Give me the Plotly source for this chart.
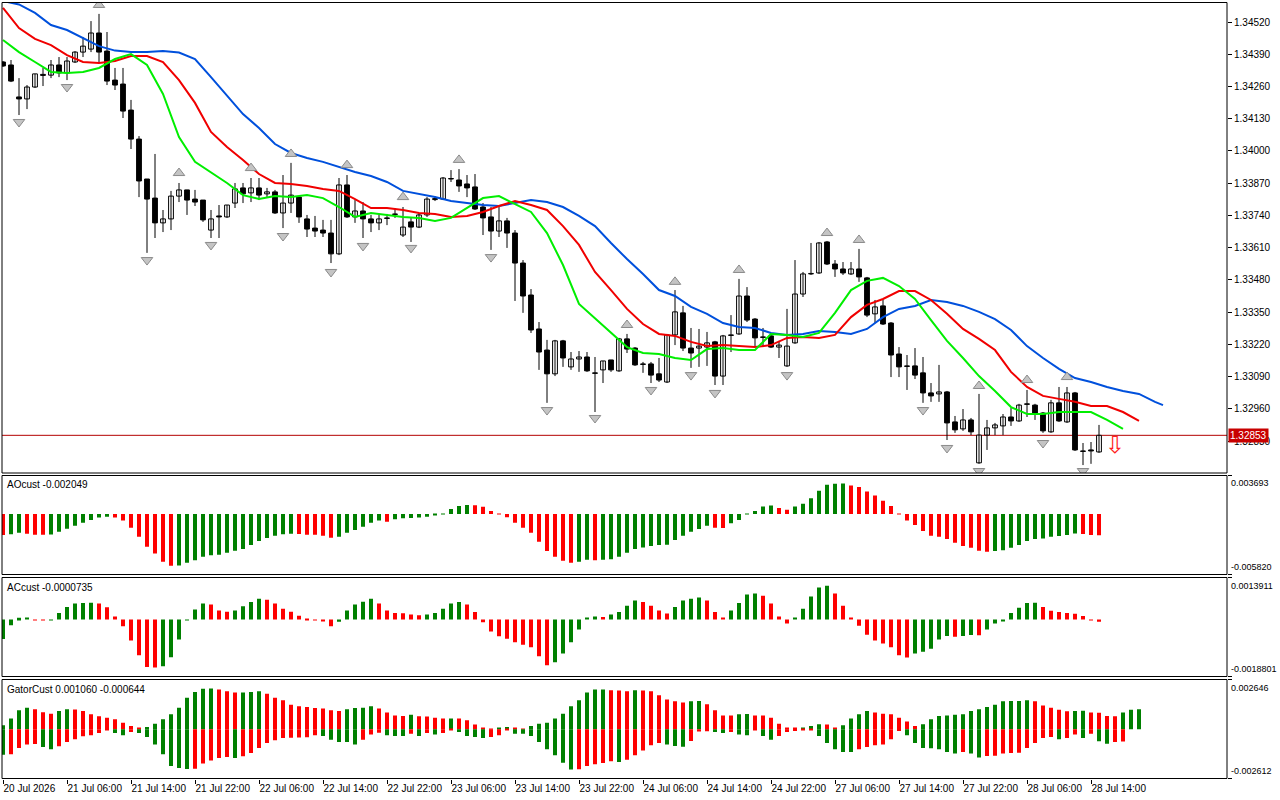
import plotly.graph_objects as go

# ---------------- data ----------------
bars = list(range(138))
open_ = [1.34359, 1.34347, 1.34218, 1.34210, 1.34258, 1.34309, 1.34306, 1.34347, 1.34315, 1.34359,
         1.34399, 1.34411, 1.34476, 1.34403, 1.34286, 1.34270, 1.34165, 1.34048, 1.33887, 1.33810,
         1.33710, 1.33726, 1.33818, 1.33843, 1.33806, 1.33802, 1.33681, 1.33738, 1.33734, 1.33790,
         1.33851, 1.33831, 1.33851, 1.33827, 1.33835, 1.33750, 1.33790, 1.33814, 1.33726, 1.33689,
         1.33681, 1.33669, 1.33585, 1.33863, 1.33734, 1.33758, 1.33726, 1.33710, 1.33730, 1.33746,
         1.33661, 1.33714, 1.33693, 1.33742, 1.33804, 1.33806, 1.33889, 1.33883, 1.33867, 1.33855,
         1.33774, 1.33734, 1.33677, 1.33718, 1.33669, 1.33548, 1.33419, 1.33282, 1.33197, 1.33101,
         1.33234, 1.33129, 1.33161, 1.33169, 1.33105, 1.33117, 1.33157, 1.33113, 1.33242, 1.33205,
         1.33141, 1.33141, 1.33101, 1.33068, 1.33258, 1.33347, 1.33205, 1.33205, 1.33209, 1.33230,
         1.33092, 1.33258, 1.33262, 1.33415, 1.33322, 1.33250, 1.33254, 1.33209, 1.33133, 1.33226,
         1.33423, 1.33504, 1.33508, 1.33633, 1.33544, 1.33524, 1.33504, 1.33524, 1.33488, 1.33343,
         1.33375, 1.33306, 1.33181, 1.33133, 1.33133, 1.33105, 1.33024, 1.33020, 1.33028, 1.32907,
         1.32879, 1.32915, 1.32742, 1.32854, 1.32883, 1.32891, 1.32927, 1.32911, 1.32980, 1.32975,
         1.32943, 1.32867, 1.32984, 1.32907, 1.33024, 1.32790, 1.32794, 1.32786]
high = [1.34363, 1.34367, 1.34294, 1.34266, 1.34311, 1.34335, 1.34367, 1.34379, 1.34379, 1.34403,
        1.34460, 1.34524, 1.34553, 1.34480, 1.34335, 1.34335, 1.34206, 1.34060, 1.33887, 1.33988,
        1.33762, 1.33839, 1.33871, 1.33843, 1.33843, 1.33802, 1.33762, 1.33782, 1.33782, 1.33871,
        1.33871, 1.33891, 1.33891, 1.33851, 1.33843, 1.33903, 1.33952, 1.33814, 1.33742, 1.33738,
        1.33722, 1.33722, 1.33891, 1.33903, 1.33802, 1.33794, 1.33742, 1.33742, 1.33746, 1.33770,
        1.33774, 1.33730, 1.33750, 1.33814, 1.33818, 1.33895, 1.33923, 1.33927, 1.33903, 1.33907,
        1.33790, 1.33774, 1.33774, 1.33730, 1.33681, 1.33560, 1.33443, 1.33310, 1.33238, 1.33238,
        1.33238, 1.33189, 1.33193, 1.33189, 1.33169, 1.33153, 1.33157, 1.33246, 1.33262, 1.33209,
        1.33149, 1.33149, 1.33165, 1.33262, 1.33439, 1.33375, 1.33286, 1.33282, 1.33270, 1.33234,
        1.33258, 1.33338, 1.33484, 1.33451, 1.33326, 1.33286, 1.33258, 1.33234, 1.33363, 1.33560,
        1.33512, 1.33629, 1.33633, 1.33637, 1.33560, 1.33552, 1.33552, 1.33605, 1.33492, 1.33399,
        1.33399, 1.33310, 1.33209, 1.33177, 1.33205, 1.33169, 1.33064, 1.33137, 1.33032, 1.32931,
        1.32959, 1.32923, 1.33020, 1.32915, 1.32903, 1.32939, 1.32963, 1.32980, 1.33036, 1.32980,
        1.32947, 1.32996, 1.33048, 1.33048, 1.33028, 1.32822, 1.32826, 1.32895]
low = [1.34339, 1.34278, 1.34145, 1.34169, 1.34254, 1.34262, 1.34294, 1.34298, 1.34286, 1.34355,
       1.34379, 1.34399, 1.34359, 1.34266, 1.34246, 1.34133, 1.34008, 1.33814, 1.33589, 1.33649,
       1.33673, 1.33681, 1.33794, 1.33742, 1.33778, 1.33714, 1.33649, 1.33649, 1.33730, 1.33770,
       1.33790, 1.33794, 1.33802, 1.33814, 1.33746, 1.33689, 1.33750, 1.33710, 1.33653, 1.33653,
       1.33653, 1.33548, 1.33580, 1.33730, 1.33710, 1.33649, 1.33673, 1.33681, 1.33701, 1.33730,
       1.33653, 1.33633, 1.33689, 1.33734, 1.33798, 1.33802, 1.33875, 1.33835, 1.33814, 1.33762,
       1.33661, 1.33601, 1.33653, 1.33609, 1.33395, 1.33347, 1.33266, 1.33117, 1.32984, 1.33092,
       1.33129, 1.33117, 1.33109, 1.33109, 1.32947, 1.33064, 1.33109, 1.33109, 1.33185, 1.33133,
       1.33105, 1.33064, 1.33068, 1.33064, 1.33217, 1.33193, 1.33125, 1.33129, 1.33133, 1.33056,
       1.33056, 1.33189, 1.33258, 1.33310, 1.33209, 1.33209, 1.33205, 1.33165, 1.33129, 1.33222,
       1.33411, 1.33500, 1.33504, 1.33540, 1.33492, 1.33500, 1.33500, 1.33472, 1.33330, 1.33306,
       1.33298, 1.33088, 1.33088, 1.33036, 1.33080, 1.32984, 1.32988, 1.32988, 1.32834, 1.32863,
       1.32871, 1.32854, 1.32738, 1.32794, 1.32854, 1.32854, 1.32891, 1.32907, 1.32927, 1.32915,
       1.32863, 1.32863, 1.32907, 1.32903, 1.32790, 1.32733, 1.32738, 1.32782]
close = [1.34343, 1.34282, 1.34210, 1.34258, 1.34311, 1.34305, 1.34347, 1.34315, 1.34363, 1.34399,
         1.34423, 1.34476, 1.34399, 1.34282, 1.34266, 1.34161, 1.34048, 1.33879, 1.33806, 1.33710,
         1.33726, 1.33818, 1.33843, 1.33802, 1.33794, 1.33722, 1.33726, 1.33734, 1.33782, 1.33847,
         1.33827, 1.33851, 1.33822, 1.33835, 1.33750, 1.33790, 1.33822, 1.33734, 1.33685, 1.33677,
         1.33669, 1.33585, 1.33863, 1.33734, 1.33758, 1.33726, 1.33710, 1.33726, 1.33728, 1.33744,
         1.33693, 1.33693, 1.33742, 1.33806, 1.33808, 1.33891, 1.33887, 1.33859, 1.33851, 1.33766,
         1.33730, 1.33677, 1.33718, 1.33669, 1.33548, 1.33415, 1.33278, 1.33189, 1.33101, 1.33234,
         1.33165, 1.33161, 1.33169, 1.33113, 1.33103, 1.33153, 1.33117, 1.33242, 1.33201, 1.33137,
         1.33139, 1.33096, 1.33076, 1.33258, 1.33351, 1.33205, 1.33185, 1.33213, 1.33226, 1.33092,
         1.33254, 1.33256, 1.33415, 1.33318, 1.33246, 1.33248, 1.33209, 1.33217, 1.33213, 1.33423,
         1.33504, 1.33506, 1.33629, 1.33544, 1.33524, 1.33508, 1.33524, 1.33492, 1.33338, 1.33371,
         1.33302, 1.33177, 1.33129, 1.33131, 1.33096, 1.33024, 1.33012, 1.33028, 1.32903, 1.32875,
         1.32915, 1.32867, 1.32854, 1.32883, 1.32895, 1.32927, 1.32911, 1.32975, 1.32978, 1.32939,
         1.32871, 1.32984, 1.32911, 1.33024, 1.32794, 1.32788, 1.32790, 1.32853]

jaw_bars = list(range(0, 145, 2)) + [145]
jaw = [1.34605, 1.34591, 1.34557, 1.34508, 1.34488, 1.34456, 1.34423, 1.34405, 1.34399, 1.34399,
       1.34403, 1.34397, 1.34371, 1.34298, 1.34222, 1.34149, 1.34093, 1.34028, 1.33992, 1.33972,
       1.33956, 1.33935, 1.33915, 1.33899, 1.33875, 1.33839, 1.33827, 1.33814, 1.33798, 1.33790,
       1.33782, 1.33778, 1.33790, 1.33802, 1.33794, 1.33774, 1.33738, 1.33697, 1.33629, 1.33564,
       1.33504, 1.33439, 1.33415, 1.33371, 1.33343, 1.33306, 1.33290, 1.33286, 1.33266, 1.33258,
       1.33262, 1.33274, 1.33270, 1.33262, 1.33282, 1.33330, 1.33363, 1.33375, 1.33399, 1.33391,
       1.33375, 1.33351, 1.33322, 1.33278, 1.33213, 1.33165, 1.33121, 1.33084, 1.33068, 1.33048,
       1.33032, 1.33020, 1.32988, 1.32975]
teeth_bars = list(range(0, 143, 2))
teeth = [1.34577, 1.34496, 1.34452, 1.34427, 1.34387, 1.34359, 1.34355, 1.34363, 1.34383, 1.34383,
         1.34359, 1.34286, 1.34194, 1.34077, 1.34016, 1.33964, 1.33907, 1.33871, 1.33867, 1.33859,
         1.33847, 1.33839, 1.33806, 1.33770, 1.33770, 1.33762, 1.33750, 1.33746, 1.33734, 1.33738,
         1.33754, 1.33778, 1.33798, 1.33782, 1.33762, 1.33697, 1.33621, 1.33512, 1.33439, 1.33363,
         1.33302, 1.33262, 1.33254, 1.33230, 1.33213, 1.33217, 1.33213, 1.33209, 1.33217, 1.33246,
         1.33250, 1.33246, 1.33258, 1.33330, 1.33379, 1.33403, 1.33435, 1.33435, 1.33399, 1.33343,
         1.33282, 1.33242, 1.33197, 1.33109, 1.33048, 1.33012, 1.33000, 1.32988, 1.32971, 1.32971,
         1.32947, 1.32911]
lips_bars = list(range(0, 141, 2))
lips = [1.34448, 1.34399, 1.34359, 1.34319, 1.34315, 1.34319, 1.34335, 1.34371, 1.34391, 1.34347,
        1.34230, 1.34056, 1.33956, 1.33915, 1.33871, 1.33822, 1.33806, 1.33818, 1.33814, 1.33822,
        1.33810, 1.33774, 1.33734, 1.33750, 1.33742, 1.33734, 1.33730, 1.33718, 1.33730, 1.33770,
        1.33810, 1.33818, 1.33786, 1.33754, 1.33669, 1.33540, 1.33383, 1.33326, 1.33270, 1.33209,
        1.33185, 1.33181, 1.33165, 1.33157, 1.33201, 1.33205, 1.33197, 1.33197, 1.33262, 1.33258,
        1.33250, 1.33266, 1.33347, 1.33439, 1.33476, 1.33488, 1.33455, 1.33403, 1.33318, 1.33234,
        1.33165, 1.33092, 1.33032, 1.32967, 1.32939, 1.32939, 1.32947, 1.32947, 1.32947, 1.32915,
        1.32879]

frac_up_bars = [12, 22, 31, 36, 43, 50, 57, 78, 84, 92, 103, 107, 122, 128, 133]
frac_up = [1.34589, 1.33911, 1.33931, 1.33988, 1.33943, 1.33814, 1.33964, 1.33298, 1.33472,
           1.33520, 1.33669, 1.33641, 1.33052, 1.33076, 1.33088]
frac_dn_bars = [2, 8, 18, 26, 35, 41, 45, 51, 61, 68, 74, 81, 86, 89, 98, 115, 118, 122, 130, 135]
frac_dn = [1.34117, 1.34258, 1.33560, 1.33621, 1.33657, 1.33512, 1.33617, 1.33609, 1.33572, 1.32955,
           1.32923, 1.33036, 1.33096, 1.33024, 1.33096, 1.32955, 1.32802, 1.32709, 1.32822, 1.32709]
signal_bar = [139]
signal_price = [1.32806]
last_price = 1.32853

ao = [-0.00203, -0.00196, -0.00180, -0.00190, -0.00200, -0.00201, -0.00198, -0.00171, -0.00142, -0.00113,
      -0.00084, -0.00058, -0.00035, -0.00026, -0.00035, -0.00064, -0.00132, -0.00219, -0.00316, -0.00380,
      -0.00460, -0.00499, -0.00496, -0.00470, -0.00444, -0.00412, -0.00396, -0.00393, -0.00374, -0.00354,
      -0.00338, -0.00299, -0.00261, -0.00232, -0.00209, -0.00196, -0.00190, -0.00193, -0.00200, -0.00201,
      -0.00209, -0.00229, -0.00219, -0.00180, -0.00155, -0.00122, -0.00084, -0.00064, -0.00074, -0.00052,
      -0.00042, -0.00039, -0.00035, -0.00026, -0.00016, -0.00003, 0.00048, 0.00077, 0.00087, 0.00084,
      0.00068, 0.00029, 0.00003, -0.00032, -0.00084, -0.00132, -0.00180, -0.00267, -0.00357, -0.00412,
      -0.00451, -0.00470, -0.00460, -0.00441, -0.00444, -0.00441, -0.00435, -0.00412, -0.00374, -0.00338,
      -0.00322, -0.00309, -0.00299, -0.00296, -0.00251, -0.00209, -0.00171, -0.00145, -0.00113, -0.00132,
      -0.00135, -0.00090, -0.00058, 0.00002, 0.00029, 0.00071, 0.00081, 0.00058, 0.00039, 0.00071,
      0.00097, 0.00151, 0.00222, 0.00280, 0.00290, 0.00293, 0.00274, 0.00258, 0.00216, 0.00177,
      0.00126, 0.00077, 0.00003, -0.00064, -0.00106, -0.00164, -0.00209, -0.00219, -0.00242, -0.00277,
      -0.00309, -0.00325, -0.00354, -0.00364, -0.00357, -0.00348, -0.00325, -0.00299, -0.00261, -0.00242,
      -0.00235, -0.00219, -0.00213, -0.00203, -0.00187, -0.00193, -0.00203, -0.002049]
ao_colors = ("rggrrrgggg" "ggggrrrrrr" "rrgggggggg" "gggggggrrr" "rrggggggrg" "gggggggggr"
             "rrrrrrrrrr" "rrggrggggg" "gggggggggr" "rggggggrrg" "ggggggrrrr" "rrrrrrrrrr"
             "rrrrgggggg" "gggggrrr")

ac = [-0.00064, -0.00019, 0.00006, 0.00007, -0.00001, -0.00002, -0.00001, 0.00022, 0.00042, 0.00053,
      0.00055, 0.00056, 0.00053, 0.00041, 0.00010, -0.00022, -0.00069, -0.00118, -0.00157, -0.00158,
      -0.00154, -0.00124, -0.00066, -0.00002, 0.00033, 0.00053, 0.00050, 0.00030, 0.00026, 0.00030,
      0.00044, 0.00058, 0.00069, 0.00066, 0.00053, 0.00036, 0.00026, 0.00013, 0.00003, -0.00001,
      -0.00004, -0.00022, -0.00007, 0.00030, 0.00050, 0.00059, 0.00069, 0.00053, 0.00030, 0.00022,
      0.00021, 0.00017, 0.00014, 0.00017, 0.00022, 0.00036, 0.00053, 0.00058, 0.00050, 0.00025,
      -0.00009, -0.00039, -0.00055, -0.00063, -0.00075, -0.00083, -0.00091, -0.00121, -0.00151, -0.00141,
      -0.00112, -0.00075, -0.00033, 0.00007, 0.00010, 0.00009, 0.00017, 0.00025, 0.00046, 0.00063,
      0.00058, 0.00046, 0.00030, 0.00020, 0.00042, 0.00063, 0.00069, 0.00073, 0.00063, 0.00025,
      0.00007, 0.00030, 0.00055, 0.00083, 0.00086, 0.00079, 0.00053, 0.00010, -0.00013, 0.00007,
      0.00036, 0.00076, 0.00106, 0.00112, 0.00086, 0.00046, 0.00007, -0.00020, -0.00050, -0.00069,
      -0.00079, -0.00091, -0.00118, -0.00125, -0.00112, -0.00106, -0.00096, -0.00066, -0.00054, -0.00057,
      -0.00054, -0.00051, -0.00052, -0.00033, -0.00013, -0.00003, 0.00022, 0.00039, 0.00055, 0.00056,
      0.00042, 0.00029, 0.00025, 0.00022, 0.00019, 0.00012, -0.00001, -0.0000735]
ac_colors = ("ggggrrgggg" "ggrrrrrrrr" "ggggggrrrg" "gggrrrrrrr" "rrgggggrrr" "rrrgggggrr"
             "rrrrrrrrrg" "gggggrgggg" "rrrrggggrr" "rggggrrrrg" "ggggrrrrrr" "rrrrgggggr"
             "ggrggggggg" "rrrrrrrr")

gator_up = [0.00021, 0.00057, 0.00101, 0.00115, 0.00106, 0.00090, 0.00083, 0.00097, 0.00106, 0.00105,
            0.00097, 0.00080, 0.00069, 0.00062, 0.00053, 0.00035, 0.00018, 0.00009, 0.00012, 0.00030,
            0.00053, 0.00080, 0.00115, 0.00168, 0.00198, 0.00216, 0.00217, 0.00211, 0.00202, 0.00195,
            0.00196, 0.00198, 0.00202, 0.00189, 0.00168, 0.00154, 0.00131, 0.00122, 0.00119, 0.00113,
            0.00110, 0.00101, 0.00097, 0.00106, 0.00113, 0.00115, 0.00122, 0.00110, 0.00089, 0.00074,
            0.00071, 0.00078, 0.00069, 0.00068, 0.00062, 0.00057, 0.00058, 0.00057, 0.00048, 0.00025,
            0.00009, 0.00002, 0.00009, 0.00012, 0.00009, 0.00004, 0.00018, 0.00030, 0.00035, 0.00057,
            0.00083, 0.00122, 0.00154, 0.00195, 0.00211, 0.00212, 0.00207, 0.00206, 0.00202, 0.00207,
            0.00206, 0.00202, 0.00181, 0.00159, 0.00149, 0.00142, 0.00149, 0.00150, 0.00133, 0.00101,
            0.00074, 0.00073, 0.00080, 0.00081, 0.00074, 0.00073, 0.00062, 0.00030, 0.00007, 0.00006,
            0.00009, 0.00018, 0.00027, 0.00026, 0.00007, 0.00021, 0.00057, 0.00080, 0.00097, 0.00089,
            0.00083, 0.00080, 0.00062, 0.00042, 0.00018, 0.00027, 0.00053, 0.00071, 0.00074, 0.00078,
            0.00080, 0.00097, 0.00106, 0.00119, 0.00131, 0.00149, 0.00150, 0.00151, 0.00154, 0.00149,
            0.00127, 0.00115, 0.00104, 0.00096, 0.00097, 0.00098, 0.00089, 0.00088, 0.00071, 0.00070,
            0.00089, 0.00104, 0.00106]
gator_up_colors = ("ggggrrrggr" "rrrrrrrrgg" "gggggggrrr" "gggrrrrrrr" "rrrggggrrr" "rgrrrrgrrr"
                   "rrggrrgggg" "ggggggrrrg" "rrrrrrggrr" "rrggrrrrrr" "gggrrggggr" "rrrrrggggg"
                   "gggggggggr" "rrrrggrrrr" "ggg")
gator_dn = [-0.00135, -0.00133, -0.00099, -0.00080, -0.00078, -0.00094, -0.00106, -0.00090, -0.00067, -0.00053,
            -0.00037, -0.00032, -0.00019, -0.00005, -0.00019, -0.00032, -0.00014, -0.00019, -0.00041, -0.00080,
            -0.00133, -0.00195, -0.00205, -0.00211, -0.00209, -0.00182, -0.00165, -0.00152, -0.00147, -0.00152,
            -0.00143, -0.00126, -0.00099, -0.00073, -0.00058, -0.00046, -0.00045, -0.00044, -0.00042, -0.00032,
            -0.00035, -0.00055, -0.00067, -0.00068, -0.00080, -0.00055, -0.00027, -0.00018, -0.00032, -0.00035,
            -0.00036, -0.00023, -0.00035, -0.00019, -0.00027, -0.00019, -0.00005, -0.00014, -0.00035, -0.00041,
            -0.00046, -0.00041, -0.00032, -0.00005, -0.00023, -0.00024, -0.00035, -0.00067, -0.00106, -0.00138,
            -0.00177, -0.00214, -0.00212, -0.00195, -0.00186, -0.00179, -0.00170, -0.00173, -0.00161, -0.00138,
            -0.00112, -0.00085, -0.00073, -0.00081, -0.00089, -0.00092, -0.00062, -0.00011, -0.00010, -0.00014,
            -0.00019, -0.00014, -0.00027, -0.00032, -0.00002, -0.00035, -0.00055, -0.00035, -0.00014, -0.00009,
            -0.00005, -0.00004, -0.00035, -0.00073, -0.00106, -0.00120, -0.00121, -0.00106, -0.00094, -0.00085,
            -0.00080, -0.00053, -0.00009, -0.00032, -0.00073, -0.00099, -0.00100, -0.00106, -0.00120, -0.00129,
            -0.00120, -0.00129, -0.00150, -0.00142, -0.00141, -0.00129, -0.00126, -0.00125, -0.00099, -0.00073,
            -0.00046, -0.00041, -0.00053, -0.00046, -0.00028, -0.00046, -0.00023, -0.00064, -0.00076, -0.00067,
            -0.000644]
gator_dn_colors = ("grrrrggrrr" "rrrrggrggg" "ggggrrrrrg" "rrrrrrrrrr" "gggggrrrgg" "grgrgrrggg"
                   "grrrgggggg" "ggrrrrrgrr" "rrrgggrrrg" "grggrggrrr" "rrgggggrrr" "rrrggggggg"
                   "rggrrrrrrr" "rrgrrgrggr" "r")

x_tick_bars = list(range(0, 137, 8))
x_tick_labels = ["20 Jul 2026", "21 Jul 06:00", "21 Jul 14:00", "21 Jul 22:00", "22 Jul 06:00",
                 "22 Jul 14:00", "22 Jul 22:00", "23 Jul 06:00", "23 Jul 14:00", "23 Jul 22:00",
                 "24 Jul 06:00", "24 Jul 14:00", "24 Jul 22:00", "27 Jul 06:00", "27 Jul 14:00",
                 "27 Jul 22:00", "28 Jul 06:00", "28 Jul 14:00"]
price_ticks = [1.32830, 1.32960, 1.33090, 1.33220, 1.33350, 1.33480, 1.33610,
               1.33740, 1.33870, 1.34000, 1.34130, 1.34260, 1.34390, 1.34520]
price_tick_labels = ["1.32830", "1.32960", "1.33090", "1.33220", "1.33350", "1.33480", "1.33610",
                     "1.33740", "1.33870", "1.34000", "1.34130", "1.34260", "1.34390", "1.34520"]
main_range = [1.32701, 1.34599]
ao_range = [-0.005820, 0.003693]
ac_range = [-0.0018801, 0.0013911]
gator_range = [-0.002612, 0.002646]
ao_title = "AOcust -0.002049"
ac_title = "ACcust -0.0000735"
gator_title = "GatorCust 0.001060 -0.000644"
ao_labels = ["0.003693", "-0.005820"]
ac_labels = ["0.0013911", "-0.0018801"]
gator_labels = ["0.002646", "-0.002612"]

# ---------------- styling / layout ----------------
W, H = 1280, 800
PX_L, PX_R, PX_T, PX_B = 2, 1227, 2, 779
GREEN, RED = "#008000", "#ff0000"
FAMILY = "Liberation Sans, Arial, sans-serif"
FONT = dict(family=FAMILY, size=10, color="black")
SMALL = dict(family=FAMILY, size=9, color="black")
cmap = {"g": GREEN, "r": RED}

ph = PX_B - PX_T
def dom(t, b):
    return [(PX_B - b) / ph, (PX_B - t) / ph]

d_main = dom(2.5, 473)
d_ao = dom(475.5, 574.5)
d_ac = dom(577.5, 676.5)
d_ga = dom(679.5, 778.5)
x_range = [-0.125, (PX_R - PX_L) / 8 - 0.125]

fig = go.Figure()

# wicks
wx, wy = [], []
for i, h, l in zip(bars, high, low):
    wx += [i, i, None]
    wy += [l, h, None]
fig.add_trace(go.Scatter(x=wx, y=wy, mode="lines", line=dict(color="black", width=1),
                         hoverinfo="skip", showlegend=False, xaxis="x", yaxis="y"))
# bodies
base = [min(o, c) for o, c in zip(open_, close)]
hgt = [max(abs(c - o), 0.00001) for o, c in zip(open_, close)]
bcol = ["#ffffff" if c > o else "#000000" for o, c in zip(open_, close)]
fig.add_trace(go.Bar(x=bars, y=hgt, base=base, width=0.6,
                     marker=dict(color=bcol, line=dict(color="black", width=1)),
                     showlegend=False, xaxis="x", yaxis="y"))
# alligator
fig.add_trace(go.Scatter(x=jaw_bars, y=jaw, mode="lines", line=dict(color="#0050dc", width=2),
                         showlegend=False, xaxis="x", yaxis="y"))
fig.add_trace(go.Scatter(x=teeth_bars, y=teeth, mode="lines", line=dict(color="#f00000", width=2),
                         showlegend=False, xaxis="x", yaxis="y"))
fig.add_trace(go.Scatter(x=lips_bars, y=lips, mode="lines", line=dict(color="#00ee00", width=2),
                         showlegend=False, xaxis="x", yaxis="y"))
# fractals
fig.add_trace(go.Scatter(x=frac_up_bars, y=frac_up, mode="markers",
                         marker=dict(symbol="triangle-up", size=10, color="#c4c4c4",
                                     line=dict(color="#8a8a8a", width=1)),
                         showlegend=False, xaxis="x", yaxis="y"))
fig.add_trace(go.Scatter(x=frac_dn_bars, y=frac_dn, mode="markers",
                         marker=dict(symbol="triangle-down", size=10, color="#c4c4c4",
                                     line=dict(color="#8a8a8a", width=1)),
                         showlegend=False, xaxis="x", yaxis="y"))
# sell signal arrow
fig.add_trace(go.Scatter(x=signal_bar, y=signal_price, mode="text", text=["⇩"],
                         textfont=dict(family="DejaVu Sans", size=24, color="#ff2020"),
                         showlegend=False, xaxis="x", yaxis="y"))

# AO
fig.add_trace(go.Bar(x=bars, y=ao, width=0.5, marker=dict(color=[cmap[c] for c in ao_colors], line=dict(width=0)),
                     showlegend=False, xaxis="x2", yaxis="y2"))
# AC
fig.add_trace(go.Bar(x=bars, y=ac, width=0.5, marker=dict(color=[cmap[c] for c in ac_colors], line=dict(width=0)),
                     showlegend=False, xaxis="x3", yaxis="y3"))
# Gator
fig.add_trace(go.Bar(x=list(range(len(gator_up))), y=gator_up, width=0.5,
                     marker=dict(color=[cmap[c] for c in gator_up_colors], line=dict(width=0)),
                     showlegend=False, xaxis="x4", yaxis="y4"))
fig.add_trace(go.Bar(x=list(range(len(gator_dn))), y=gator_dn, width=0.5,
                     marker=dict(color=[cmap[c] for c in gator_dn_colors], line=dict(width=0)),
                     showlegend=False, xaxis="x4", yaxis="y4"))

xa = dict(range=x_range, domain=[0, 1], showgrid=False, zeroline=False, showline=False,
          showticklabels=False, ticks="", fixedrange=True)
ya = dict(side="right", showgrid=False, zeroline=False, showline=False, fixedrange=True,
          ticks="outside", ticklen=4, tickcolor="black", tickwidth=1, tickfont=FONT)

layout = dict(
    width=W, height=H,
    margin=dict(l=PX_L, r=W - PX_R, t=PX_T, b=H - PX_B, pad=0, autoexpand=False),
    paper_bgcolor="white", plot_bgcolor="white",
    barmode="overlay", showlegend=False, font=FONT,
    xaxis=dict(xa, anchor="y"),
    xaxis2=dict(xa, anchor="y2", matches="x"),
    xaxis3=dict(xa, anchor="y3", matches="x"),
    xaxis4=dict(xa, anchor="y4", matches="x", showticklabels=True, ticks="outside", ticklen=4,
                tickcolor="black", tickvals=x_tick_bars, ticktext=x_tick_labels, tickangle=0,
                ticklabelposition="outside right", tickfont=FONT),
    yaxis=dict(ya, domain=d_main, range=main_range, anchor="x",
               tickvals=price_ticks, ticktext=price_tick_labels),
    yaxis2=dict(ya, domain=d_ao, range=ao_range, anchor="x2", tickvals=ao_range, showticklabels=False),
    yaxis3=dict(ya, domain=d_ac, range=ac_range, anchor="x3", tickvals=ac_range, showticklabels=False),
    yaxis4=dict(ya, domain=d_ga, range=gator_range, anchor="x4", tickvals=gator_range, showticklabels=False),
)
fig.update_layout(**layout)

shapes = []
for d in (d_main, d_ao, d_ac, d_ga):
    shapes.append(dict(type="rect", xref="paper", yref="paper", x0=0, x1=1, y0=d[0], y1=d[1],
                       line=dict(color="black", width=1), fillcolor="rgba(0,0,0,0)", layer="above"))
shapes.append(dict(type="line", xref="paper", yref="y", x0=0, x1=1, y0=last_price, y1=last_price,
                   line=dict(color="#b40000", width=1), layer="below"))
fig.update_layout(shapes=shapes)

ann = []
for yref, title, labels in (("y2", ao_title, ao_labels), ("y3", ac_title, ac_labels),
                            ("y4", gator_title, gator_labels)):
    ann.append(dict(xref="paper", yref=yref + " domain", x=0, y=1, xanchor="left", yanchor="top",
                    xshift=3, yshift=-2, text=title, showarrow=False, font=FONT))
    ann.append(dict(xref="paper", yref=yref + " domain", x=1, y=1, xanchor="left", yanchor="top",
                    xshift=2, yshift=-1, text=labels[0], showarrow=False, font=SMALL))
    ann.append(dict(xref="paper", yref=yref + " domain", x=1, y=0, xanchor="left", yanchor="bottom",
                    xshift=2, yshift=1, text=labels[1], showarrow=False, font=SMALL))
ann.append(dict(xref="paper", yref="y", x=1, y=last_price, xanchor="left", yanchor="middle",
                xshift=1, text=f"{last_price:.5f}", showarrow=False, bgcolor="#c80000",
                borderpad=1, font=dict(family=FAMILY, size=10, color="white")))
fig.update_layout(annotations=ann)

fig.write_html("out.html", config={"displayModeBar": False},
               post_script="document.body.style.margin='0';document.body.style.overflow='hidden';")
